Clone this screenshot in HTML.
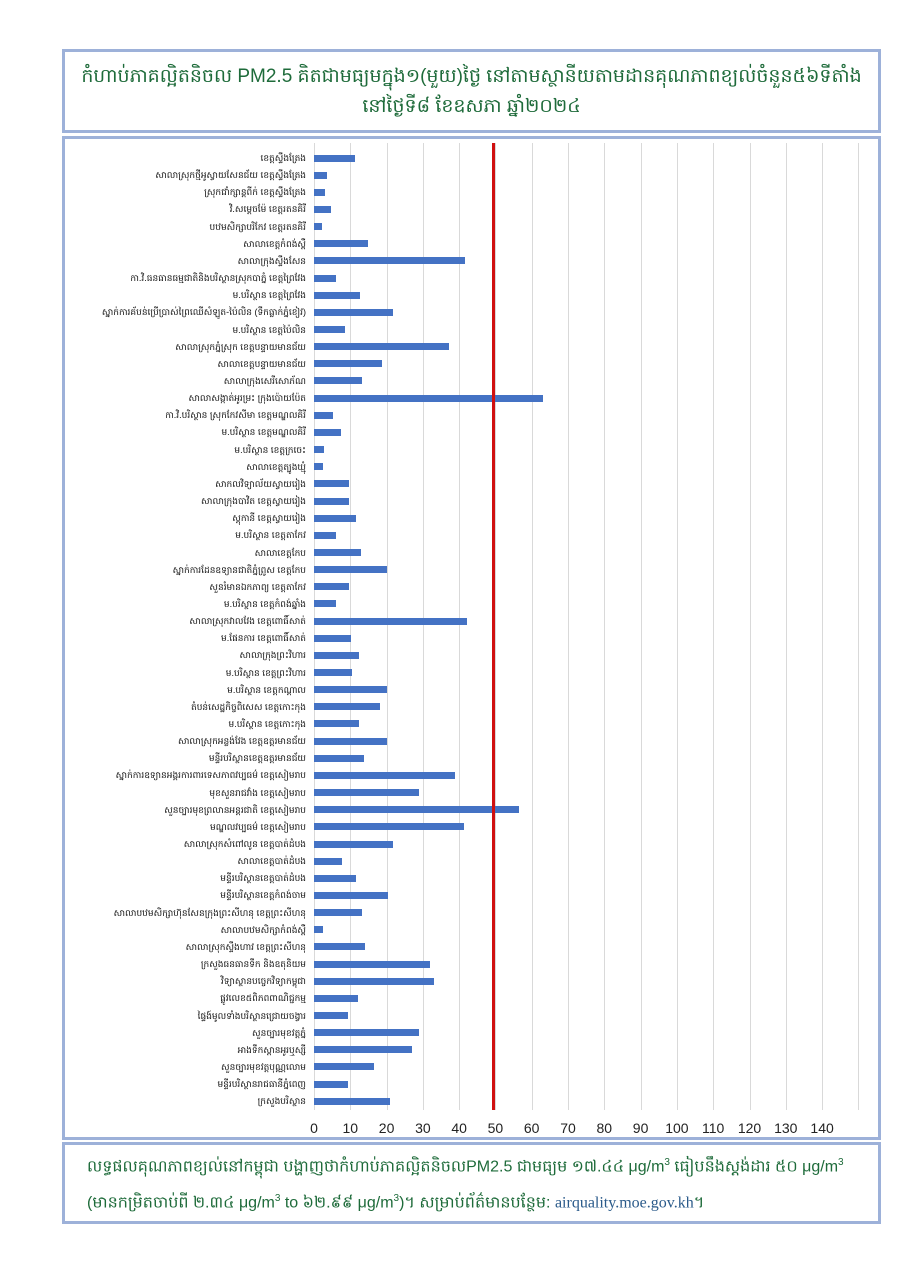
<!DOCTYPE html>
<html><head><meta charset="utf-8">
<style>
body{margin:0;background:#fff;width:905px;height:1280px;position:relative;overflow:hidden;font-family:"Liberation Sans","Noto Sans CJK SC",sans-serif;}
.box{position:absolute;border:3px solid #9db1d9;box-sizing:border-box;background:#fff;}
.title{left:62px;top:49px;width:819px;height:84px;color:#1e6b3a;font-size:19px;text-align:center;line-height:30px;padding-top:10px;}
.chart{left:62px;top:136px;width:819px;height:1004px;border-color:#9db1d9;}
.foot{left:62px;top:1142px;width:819px;height:82px;color:#1e6b3a;font-size:16px;line-height:32px;padding:2px 0 0 22px;white-space:nowrap;overflow:hidden;}
.g{position:absolute;top:143px;height:967px;width:1px;background:#d9d9d9;}
.bar{position:absolute;left:314px;height:7px;background:#4472c4;}
.lab{position:absolute;right:599px;font-size:9px;color:#111;white-space:nowrap;line-height:10px;text-align:right;}
.tick{position:absolute;top:1120px;font-size:14px;color:#222;width:40px;margin-left:-20px;text-align:center;}
</style></head><body>
<div class="box title">កំហាប់ភាគល្អិតនិចល PM2.5 គិតជាមធ្យមក្នុង១(មួយ)ថ្ងៃ នៅតាមស្ថានីយតាមដានគុណភាពខ្យល់ចំនួន៥៦ទីតាំង<br>នៅថ្ងៃទី៨ ខែឧសភា ឆ្នាំ២០២៤</div>
<div class="box chart"></div>
<div id="c"></div>
<div style="position:absolute;left:492px;top:143px;width:3px;height:967px;background:#d01010"></div>
<div class="box foot">លទ្ធផលគុណភាពខ្យល់នៅកម្ពុជា បង្ហាញថាកំហាប់ភាគល្អិតនិចលPM2.5 ជាមធ្យម ១៧.៤៤ μg/m<sup style="font-size:10px">3</sup> ធៀបនឹងស្តង់ដារ ៥០ μg/m<sup style="font-size:10px">3</sup><br>(មានកម្រិតចាប់ពី ២.៣៤ μg/m<sup style="font-size:10px">3</sup> to ៦២.៩៩ μg/m<sup style="font-size:10px">3</sup>)។ សម្រាប់ព័ត៌មានបន្ថែម: <span style="font-family:'Liberation Serif',serif;color:#2a5a8a">airquality.moe.gov.kh</span>។</div>
<script>
var L=["ខេត្តស្ទឹងត្រែង","សាលាស្រុកថ្មីអូស្វាយសែនជ័យ ខេត្តស្ទឹងត្រែង","ស្រុកជាំក្សាន្តពីក់ ខេត្តស្ទឹងត្រែង","វិ.សម្តេចម៉ែ ខេត្តរតនគិរី","បឋមសិក្សាបរិកែវ ខេត្តរតនគិរី","សាលាខេត្តកំពង់ស្ពឺ","សាលាក្រុងស្ទឹងសែន","កា.វិ.ធនធានធម្មជាតិនិងបរិស្ថានស្រុកបាភ្នំ ខេត្តព្រៃវែង","ម.បរិស្ថាន ខេត្តព្រៃវែង","ស្នាក់ការគ័បន់ប្រើប្រាស់ព្រៃឈើសំឡូត-ប៉ៃលិន (ទឹកធ្លាក់ភ្នំខៀវ)","ម.បរិស្ថាន ខេត្តប៉ៃលិន","សាលាស្រុកភ្នំស្រុក ខេត្តបន្ទាយមានជ័យ","សាលាខេត្តបន្ទាយមានជ័យ","សាលាក្រុងសេរីសោភ័ណ","សាលាសង្កាត់អូរម្រះ ក្រុងប៉ោយប៉ែត","កា.វិ.បរិស្ថាន ស្រុកកែវសីមា ខេត្តមណ្ឌលគិរី","ម.បរិស្ថាន ខេត្តមណ្ឌលគិរី","ម.បរិស្ថាន ខេត្តក្រចេះ","សាលាខេត្តត្បូងឃ្មុំ","សាកលវិទ្យាល័យស្វាយរៀង","សាលាក្រុងបាវិត ខេត្តស្វាយរៀង","ស្តុកានី ខេត្តស្វាយរៀង","ម.បរិស្ថាន ខេត្តតាកែវ","សាលាខេត្តកែប","ស្នាក់ការដែនឧទ្យានជាតិភ្នំព្រូស ខេត្តកែប","សួនរំមានឯកភាព្យ ខេត្តតាកែវ","ម.បរិស្ថាន ខេត្តកំពង់ឆ្នាំង","សាលាស្រុកវាលវែង ខេត្តពោធិ៍សាត់","ម.ផែនការ ខេត្តពោធិ៍សាត់","សាលាក្រុងព្រះវិហារ","ម.បរិស្ថាន ខេត្តព្រះវិហារ","ម.បរិស្ថាន ខេត្តកណ្តាល","តំបន់សេដ្ឋកិច្ចពិសេស ខេត្តកោះកុង","ម.បរិស្ថាន ខេត្តកោះកុង","សាលាស្រុកអន្លង់វែង ខេត្តឧត្តរមានជ័យ","មន្ទីរបរិស្ថានខេត្តឧត្តរមានជ័យ","ស្នាក់ការឧទ្យានអង្គរការពារទេសភាពវប្បធម៌ ខេត្តសៀមរាប","មុខសួនរាជវាំង ខេត្តសៀមរាប","សួនច្បារមុខព្រលានអន្តរជាតិ ខេត្តសៀមរាប","មណ្ឌលវប្បធម៌ ខេត្តសៀមរាប","សាលាស្រុកសំពៅលូន ខេត្តបាត់ដំបង","សាលាខេត្តបាត់ដំបង","មន្ទីរបរិស្ថានខេត្តបាត់ដំបង","មន្ទីរបរិស្ថានខេត្តកំពង់ចាម","សាលាបឋមសិក្សាហ៊ុនសែនក្រុងព្រះសីហនុ ខេត្តព្រះសីហនុ","សាលាបឋមសិក្សាកំពង់ស្ពឺ","សាលាស្រុកស្ទឹងហាវ ខេត្តព្រះសីហនុ","ក្រសួងធនធានទឹក និងឧតុនិយម","វិទ្យាស្ថានបច្ចេកវិទ្យាកម្ពុជា","ផ្លូវលេខ៥ពិភពពាណិជ្ជកម្ម","ផ្ទៃង៍មូលទាំងបរិស្ថានជ្រោយចង្វារ","សួនច្បារមុខវត្តភ្នំ","អាងទឹកស្ពានអូរឬស្សី","សួនច្បារមុខវត្តបុណ្ណលោម","មន្ទីរបរិស្ថានរាជធានីភ្នំពេញ","ក្រសួងបរិស្ថាន"];
var E=[355,327,325,331,322,368,465,336,360,393,345,449,382,362,543,333,341,324,323,349,349,356,336,361,387,349,336,467,351,359,352,387,380,359,387,364,455,419,519,464,393,342,356,388,362,323,365,430,434,358,348,419,412,374,348,390];
var h="";
for(var i=1;i<=15;i++){h+='<div class="g" style="left:'+(314+i*36.29).toFixed(1)+'px"></div>';}
h+='<div class="g" style="left:314px"></div>';
for(var i=0;i<56;i++){var y=158+i*17.15;h+='<div class="bar" style="top:'+(y-3.5).toFixed(1)+'px;width:'+(E[i]-314)+'px"></div><div class="lab" style="top:'+(y-5).toFixed(1)+'px">'+L[i]+'</div>';}
for(var i=0;i<=14;i++){h+='<div class="tick" style="left:'+(314+i*36.29).toFixed(1)+'px">'+(i*10)+'</div>';}
document.getElementById("c").innerHTML=h;
</script>
</body></html>
